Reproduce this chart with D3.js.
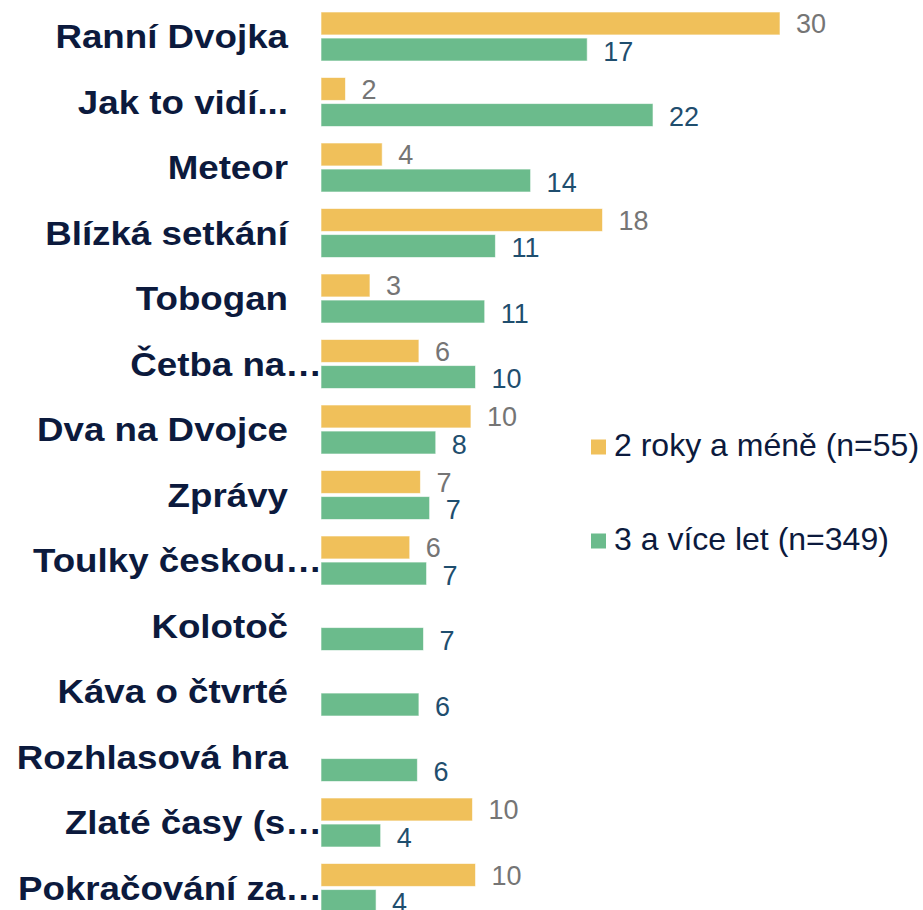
<!DOCTYPE html>
<html>
<head>
<meta charset="utf-8">
<script src="https://cdn.jsdelivr.net/npm/d3@7"></script>
<style>
  body { margin: 0; background: #fff; }
  svg { display: block; font-family: "Liberation Sans", Arial, sans-serif; }
</style>
</head>
<body>
<svg width="923" height="910"></svg>
<script>
const categories = ['Ranní Dvojka', 'Jak to vidí...', 'Meteor', 'Blízká setkání', 'Tobogan',
    'Četba na…', 'Dva na Dvojce', 'Zprávy', 'Toulky českou…', 'Kolotoč',
    'Káva o čtvrté', 'Rozhlasová hra', 'Zlaté časy (s…', 'Pokračování za…'];
const seriesNames = ['2 roky a méně (n=55)', '3 a více let (n=349)'];
const young = [30.0, 1.6, 4.0, 18.4, 3.2, 6.4, 9.8, 6.5, 5.8, null, null, null, 9.9, 10.1];
const old = [17.4, 21.7, 13.7, 11.4, 10.7, 10.1, 7.5, 7.1, 6.9, 6.7, 6.4, 6.3, 3.9, 3.6];

const svg = d3.select('svg');
const colors = ['#f0c05a', '#6bbb8c'];
const labelColors = ['#757575', '#1f4e6e'];
const navy = '#0c1a3d';

const left = 321;
const x = d3.scaleLinear().domain([0, 30]).range([0, 459]);
const y = d3.scaleBand().domain(categories).range([3.5, 920.5]);
const sub = d3.scaleBand().domain([0, 1]).range([8.5, 57.5]).paddingInner(0.12);

const rows = categories.map((c, i) => ({ cat: c, vals: [young[i], old[i]] }));

const row = svg.append('g')
    .selectAll('g')
    .data(rows)
    .enter()
    .append('g')
    .attr('transform', d => `translate(0,${y(d.cat)})`);

// truncated names run on into the bar area, the others stop short of it
row.append('text')
    .attr('transform', d => `translate(${d.cat.endsWith('…') ? 322 : 288},${y.bandwidth() / 2 + 12}) scale(1.08,1)`)
    .attr('text-anchor', 'end')
    .attr('font-size', 34)
    .attr('font-weight', 'bold')
    .attr('fill', navy)
    .text(d => d.cat);

const bars = row.selectAll('g.bar')
    .data(d => d.vals.map((v, k) => ({ v, k })).filter(e => e.v !== null))
    .enter()
    .append('g')
    .attr('class', 'bar');

bars.append('rect')
    .attr('x', left)
    .attr('y', d => sub(d.k))
    .attr('width', d => x(d.v))
    .attr('height', sub.bandwidth())
    .attr('fill', d => colors[d.k])
    .attr('stroke', '#fff')
    .attr('stroke-opacity', 0.6)
    .attr('stroke-width', 1);

bars.append('text')
    .attr('x', d => left + x(d.v) + 16)
    .attr('y', d => sub(d.k) + sub.bandwidth() / 2 + (d.k ? 1.5 : 0))
    .attr('dy', '0.36em')
    .attr('font-size', 27)
    .attr('fill', d => labelColors[d.k])
    .text(d => Math.round(d.v));

const legend = svg.append('g')
    .selectAll('g')
    .data(seriesNames)
    .enter()
    .append('g')
    .attr('transform', (d, i) => `translate(591,${447 + i * 94})`);

legend.append('rect')
    .attr('x', 0)
    .attr('y', -7.5)
    .attr('width', 15)
    .attr('height', 15)
    .attr('fill', (d, i) => colors[i]);

legend.append('text')
    .attr('x', 23)
    .attr('y', 9)
    .attr('font-size', 32)
    .attr('fill', navy)
    .text(d => d);
</script>
</body>
</html>
